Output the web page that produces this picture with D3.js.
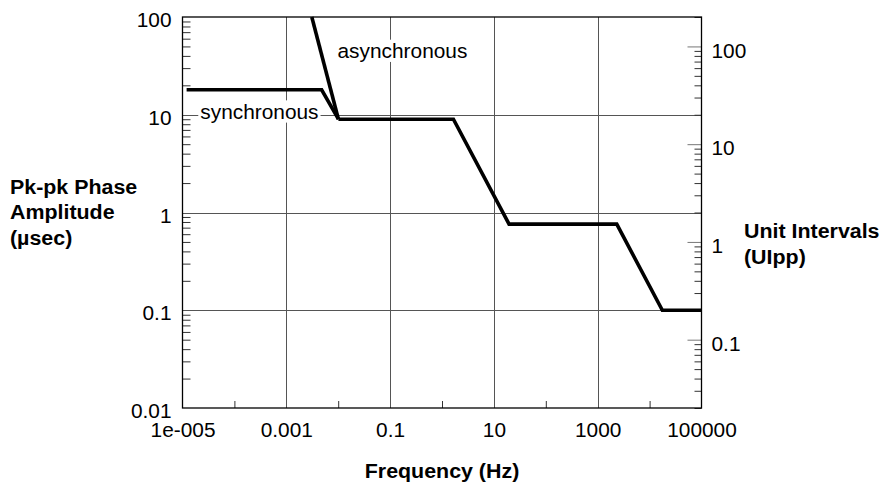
<!DOCTYPE html>
<html><head><meta charset="utf-8">
<script src="https://cdn.jsdelivr.net/npm/d3@7"></script>
<style>html,body{margin:0;padding:0;background:#fff;} svg{display:block;font-family:"Liberation Sans",Arial,sans-serif;}</style>
</head><body><svg id="c" width="883" height="495"></svg>
<script>
// ---- data ----
const xTickValues = [1e-5, 1e-3, 1e-1, 1e1, 1e3, 1e5];
const xTickLabels = ["1e-005", "0.001", "0.1", "10", "1000", "100000"];
const xGridValues = [1e-3, 1e-1, 1e1, 1e3];
const xMinorValues = [1e-4, 1e-2, 1, 1e2, 1e4];
const yTickValues = [0.01, 0.1, 1, 10, 100];
const yTickLabels = ["0.01", "0.1", "1", "10", "100"];
const yGridValues = [0.1, 1, 10];
const uiTickValues = [0.1, 1, 10, 100];
const uiTickLabels = ["0.1", "1", "10", "100"];
const uiPerMicrosecond = 2;

const syncFreq = [1.2e-5, 0.0048, 0.0101];
const syncAmp  = [18, 18, 9];
const asyncFreq = [0.0031, 0.0101];
const asyncAmp  = [100, 9];
const maskFreq = [0.0101, 1.66, 19.6, 2330, 17600, 1e5];
const maskAmp  = [9, 9, 0.76, 0.76, 0.1, 0.1];

const curveLabels = ["synchronous", "asynchronous"];
const yTitle = ["Pk-pk Phase", "Amplitude", "(\u00b5sec)"];
const uiTitle = ["Unit Intervals", "(UIpp)"];
const xTitle = "Frequency (Hz)";

// ---- layout ----
const svg = d3.select("#c");
const m = {left: 182.5, right: 701.5, top: 17, bottom: 408};
const SX = 1.07;
const x = d3.scaleLog().domain([1e-5, 1e5]).range([m.left, m.right]);
const y = d3.scaleLog().domain([0.01, 100]).range([m.bottom, m.top]);
const yUI = d3.scaleLog().domain([0.01 * uiPerMicrosecond, 100 * uiPerMicrosecond]).range([m.bottom, m.top]);

function addText(g, str, px, py, opt = {}) {
  return g.append("text")
    .attr("transform", `translate(${px},${py}) scale(${SX},1)`)
    .attr("text-anchor", opt.anchor || "start")
    .attr("font-size", opt.size || 19.5)
    .attr("font-weight", opt.weight || "normal")
    .attr("fill", "#000")
    .text(str);
}

// gridlines
const grid = svg.append("g").attr("stroke", "#555").attr("stroke-width", 1).attr("shape-rendering", "crispEdges");
grid.selectAll(".vg").data(xGridValues).join("line")
  .attr("x1", d => Math.round(x(d)) + 0.5).attr("x2", d => Math.round(x(d)) + 0.5)
  .attr("y1", m.top).attr("y2", m.bottom);
grid.selectAll(".hg").data(yGridValues).join("line")
  .attr("y1", d => Math.round(y(d)) + 0.5).attr("y2", d => Math.round(y(d)) + 0.5)
  .attr("x1", m.left).attr("x2", m.right);

// minor ticks bottom
const bx = svg.append("g").attr("transform", `translate(0,${m.bottom})`)
  .call(d3.axisBottom(x).tickValues(xMinorValues).tickSizeInner(-7).tickSizeOuter(0).tickFormat(""));
bx.select(".domain").remove();
bx.selectAll("line").attr("stroke", "#333");

// left minor ticks
const yMinor = y.ticks().filter(d => Math.abs(Math.log10(d) - Math.round(Math.log10(d))) > 1e-6);
const ly = svg.append("g").attr("transform", `translate(${m.left},0)`)
  .call(d3.axisLeft(y).tickValues(yMinor).tickSizeInner(-8).tickSizeOuter(0).tickFormat(""));
ly.select(".domain").remove();
ly.selectAll("line").attr("stroke", "#333");

// right ticks
const uiAll = yUI.ticks();
const isMajor = d => Math.abs(Math.log10(d) - Math.round(Math.log10(d))) < 1e-6;
const ry = svg.append("g").attr("transform", `translate(${m.right},0)`)
  .call(d3.axisRight(yUI).tickValues(uiAll).tickSizeInner(-7).tickSizeOuter(0).tickFormat(""));
ry.select(".domain").remove();
ry.selectAll(".tick line").attr("stroke", "#333")
  .filter(d => isMajor(d)).attr("x2", -14).attr("stroke", "#777");

// curve labels with white backgrounds
function boxedLabel(str, px, py) {
  const g = svg.append("g");
  const r = g.append("rect").attr("fill", "#fff");
  const t = addText(g, str, px, py);
  const b = t.node().getBBox();
  const w = b.width * SX;
  r.attr("x", px - 2).attr("y", py + b.y - 1).attr("width", w + 4).attr("height", b.height + 1);
}
boxedLabel(curveLabels[0], x(2.2e-5), y(10) + 4);
boxedLabel(curveLabels[1], x(0.0097), y(38));

// frame
svg.append("rect").attr("x", m.left).attr("y", m.top)
  .attr("width", m.right - m.left).attr("height", m.bottom - m.top)
  .attr("fill", "none").attr("stroke", "#000").attr("stroke-width", 1.3);

// data lines
const line = d3.line().x(d => x(d[0])).y(d => y(d[1]));
const lines = svg.append("g").attr("fill", "none").attr("stroke", "#000")
  .attr("stroke-width", 3.6).attr("stroke-linejoin", "miter");
lines.append("path").attr("d", line(d3.zip(syncFreq, syncAmp)));
lines.append("path").attr("d", line(d3.zip(asyncFreq, asyncAmp)));
lines.append("path").attr("d", line(d3.zip(maskFreq, maskAmp)));

// tick labels via axes
const fs = 19.5;
const xa = svg.append("g").attr("transform", `translate(0,${m.bottom})`)
  .call(d3.axisBottom(x).tickValues(xTickValues).tickFormat((d, i) => xTickLabels[i]).tickSize(0));
xa.select(".domain").remove();
xa.selectAll("text").attr("y", 29).attr("dy", null).attr("font-size", fs).attr("fill", "#000")
  .attr("transform", `scale(${SX},1)`);

const ya = svg.append("g").attr("transform", `translate(${m.left},0)`)
  .call(d3.axisLeft(y).tickValues(yTickValues).tickFormat((d, i) => yTickLabels[i]).tickSize(0));
ya.select(".domain").remove();
ya.selectAll("text").attr("x", -11 / SX).attr("y", 9.5).attr("dy", null).attr("font-size", fs).attr("fill", "#000")
  .attr("transform", `scale(${SX},1)`);

const ua = svg.append("g").attr("transform", `translate(${m.right},0)`)
  .call(d3.axisRight(yUI).tickValues(uiTickValues).tickFormat((d, i) => uiTickLabels[i]).tickSize(0));
ua.select(".domain").remove();
ua.selectAll("text").attr("x", 10 / SX).attr("y", 10.7).attr("dy", null).attr("font-size", fs).attr("fill", "#000")
  .attr("transform", `scale(${SX},1)`);
svg.selectAll("g").attr("font-family", null);

// axis titles
yTitle.forEach((s, i) => addText(svg, s, 10, 193.5 + i * 25.5, {weight: "bold", size: 20}));
uiTitle.forEach((s, i) => addText(svg, s, 744, 238 + i * 25.5, {weight: "bold", size: 20}));
addText(svg, xTitle, (m.left + m.right) / 2, 478, {weight: "bold", size: 20, anchor: "middle"});
</script></body></html>
